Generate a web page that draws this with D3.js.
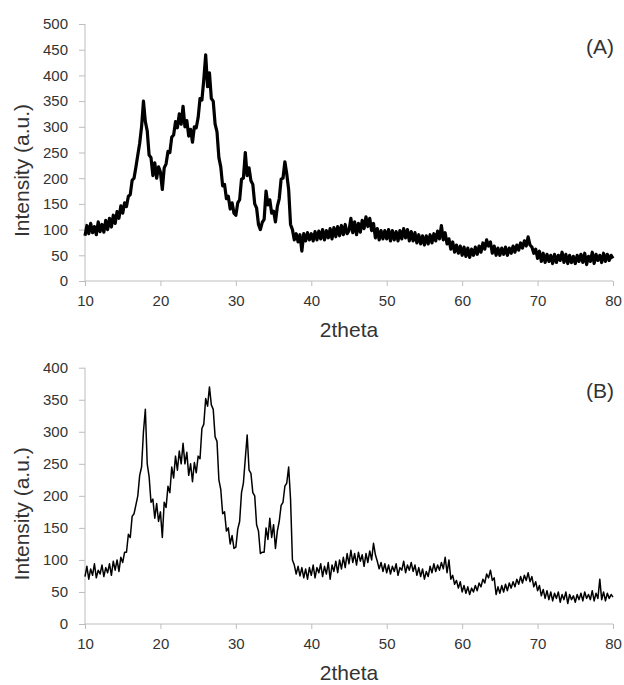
<!DOCTYPE html>
<html>
<head>
<meta charset="utf-8">
<script src="https://cdn.jsdelivr.net/npm/d3@7"></script>
<style>
  body { margin: 0; background: #fff; }
  svg { display: block; font-family: "Liberation Sans", Arial, sans-serif; }
  .axis path, .axis line { stroke: #bdbdbd; }
  .axis text { fill: #333; font-size: 15px; }
</style>
</head>
<body>
<svg id="chart" width="624" height="685"></svg>
<script>
// scan grid: 10 to 80 deg, step 0.25
var scanStart = 10, scanStep = 0.25;

var xTicks = [10, 20, 30, 40, 50, 60, 70, 80];
var yTicksA = [0, 50, 100, 150, 200, 250, 300, 350, 400, 450, 500];
var yTicksB = [0, 50, 100, 150, 200, 250, 300, 350, 400];

// intensity, one row = 5 deg
var intensityA = [
  88, 108, 92, 112, 94, 106, 90, 115, 96, 110, 95, 118, 100, 122, 105, 128, 112, 135, 122, 146,
  132, 152, 145, 165, 168, 196, 200, 222, 245, 268, 300, 350, 310, 292, 245, 240, 205, 230, 200, 222,
  212, 178, 220, 228, 252, 250, 280, 284, 310, 298, 325, 305, 340, 300, 312, 282, 295, 270, 300, 298,
  318, 355, 352, 392, 440, 378, 405, 355, 350, 305, 290, 240, 222, 185, 188, 160, 165, 140, 152, 132,
  128, 152, 158, 198, 200, 250, 205, 220, 195, 188, 150, 142, 110, 100, 114, 120, 175, 148, 158, 132,
  136, 115, 145, 160, 198, 200, 232, 208, 178, 110, 100, 80, 92, 76, 90, 58, 92, 78, 94, 80,
  92, 78, 96, 80, 97, 82, 100, 80, 98, 84, 102, 82, 104, 86, 106, 88, 108, 90, 110, 92,
  98, 122, 94, 115, 90, 112, 95, 118, 102, 125, 106, 122, 98, 112, 84, 102, 80, 98, 82, 98,
  82, 100, 78, 98, 80, 96, 78, 98, 82, 102, 84, 100, 78, 96, 78, 94, 74, 90, 72, 88,
  70, 88, 72, 90, 74, 92, 78, 97, 82, 108, 80, 94, 72, 82, 62, 76, 56, 70, 54, 68,
  50, 66, 48, 64, 46, 62, 50, 66, 52, 68, 56, 74, 62, 80, 68, 76, 54, 68, 50, 64,
  50, 64, 52, 66, 50, 64, 54, 68, 56, 70, 60, 74, 64, 78, 68, 86, 70, 66, 54, 62,
  44, 58, 38, 54, 36, 52, 38, 50, 34, 52, 36, 50, 40, 56, 36, 52, 34, 50, 36, 48,
  34, 50, 38, 52, 36, 54, 32, 48, 38, 56, 34, 52, 40, 50, 36, 54, 38, 52, 40, 50,
  44
];

// intensity
var intensityB = [
  74, 90, 70, 86, 76, 94, 72, 84, 78, 92, 74, 88, 80, 94, 76, 98, 84, 100, 82, 104,
  96, 112, 112, 140, 135, 168, 172, 186, 200, 232, 245, 300, 335, 250, 230, 190, 195, 165, 188, 160,
  175, 135, 190, 182, 215, 205, 245, 228, 262, 240, 270, 250, 282, 250, 268, 232, 250, 222, 252, 236,
  262, 258, 305, 312, 352, 340, 370, 342, 335, 292, 285, 225, 210, 172, 175, 145, 150, 125, 138, 118,
  120, 148, 160, 205, 220, 258, 295, 240, 235, 205, 200, 155, 145, 110, 112, 112, 150, 132, 165, 135,
  155, 118, 145, 160, 185, 190, 215, 220, 245, 195, 100, 92, 78, 90, 75, 88, 72, 86, 70, 88,
  76, 92, 72, 88, 80, 94, 74, 90, 78, 96, 70, 92, 82, 98, 80, 100, 86, 104, 88, 110,
  94, 115, 96, 110, 92, 112, 98, 108, 90, 110, 96, 114, 100, 126, 108, 98, 86, 96, 82, 94,
  80, 92, 78, 90, 82, 94, 76, 88, 84, 98, 80, 92, 84, 96, 82, 92, 76, 88, 74, 86,
  70, 82, 74, 90, 80, 94, 82, 92, 84, 96, 86, 104, 80, 100, 70, 76, 62, 68, 56, 66,
  50, 60, 48, 58, 46, 56, 50, 60, 52, 64, 58, 70, 64, 78, 72, 84, 68, 72, 46, 58,
  48, 60, 50, 62, 52, 64, 56, 66, 58, 70, 62, 74, 64, 76, 68, 80, 66, 74, 58, 66,
  52, 60, 44, 54, 40, 52, 38, 50, 36, 48, 40, 50, 34, 46, 38, 50, 32, 46, 38, 44,
  34, 46, 38, 48, 36, 50, 40, 46, 38, 52, 36, 48, 40, 70, 38, 50, 36, 48, 40, 46,
  42
];

var svg = d3.select("#chart");

function drawPanel(values, yTicks, yMax, top, bottom, label, lineWidth) {
  var x = d3.scaleLinear().domain([10, 80]).range([85, 613]);
  var y = d3.scaleLinear().domain([0, yMax]).range([bottom, top]);

  var gx = svg.append("g")
    .attr("class", "axis")
    .attr("transform", "translate(0," + bottom + ")")
    .call(d3.axisBottom(x).tickValues(xTicks).tickSize(5).tickSizeOuter(0).tickPadding(9));
  gx.select(".domain").remove();
  gx.append("line").attr("x1", 85).attr("x2", 613).attr("y1", 0).attr("y2", 0);

  var gy = svg.append("g")
    .attr("class", "axis")
    .attr("transform", "translate(85,0)")
    .call(d3.axisLeft(y).tickValues(yTicks).tickSize(6).tickSizeOuter(0).tickPadding(11));
  gy.select(".domain").remove();
  gy.append("line").attr("x1", 0).attr("x2", 0).attr("y1", top).attr("y2", bottom);

  var line = d3.line()
    .x(function(d, i) { return x(scanStart + i * scanStep); })
    .y(function(d) { return y(d); });

  svg.append("path")
    .datum(values)
    .attr("fill", "none")
    .attr("stroke", "#000")
    .attr("stroke-width", lineWidth)
    .attr("stroke-linejoin", "round")
    .attr("d", line);

  svg.append("text")
    .attr("x", 349)
    .attr("y", bottom + 56)
    .attr("text-anchor", "middle")
    .style("font-size", "21px")
    .attr("fill", "#333")
    .text("2theta");

  svg.append("text")
    .attr("transform", "translate(29," + (top + bottom) / 2 + ") rotate(-90)")
    .attr("dx", -18)
    .attr("text-anchor", "middle")
    .style("font-size", "21px")
    .attr("fill", "#333")
    .text("Intensity (a.u.)");

  svg.append("text")
    .attr("x", 614)
    .attr("y", top + 30)
    .attr("text-anchor", "end")
    .style("font-size", "21px")
    .attr("fill", "#333")
    .text(label);
}

drawPanel(intensityA, yTicksA, 500, 24, 281, "(A)", 3.2);
drawPanel(intensityB, yTicksB, 400, 367.7, 624, "(B)", 1.5);
</script>
</body>
</html>
